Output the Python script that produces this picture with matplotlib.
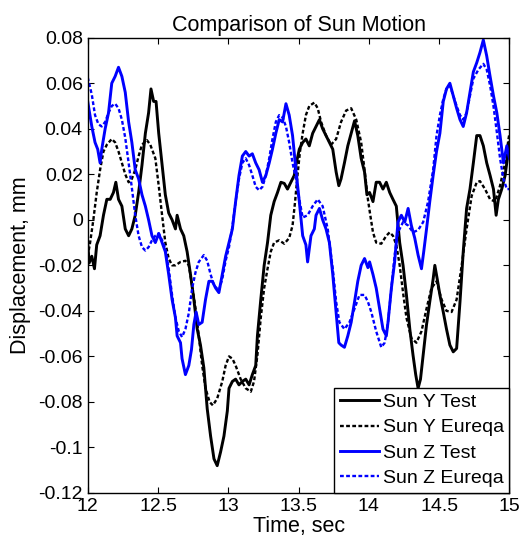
import numpy as np
import matplotlib.pyplot as plt

plt.rcParams['font.family'] = ['Liberation Sans', 'DejaVu Sans']

# (time [sec], displacement [mm])
sun_y_test = np.array([
    (12.000, -0.010), (12.010, -0.019), (12.029, -0.016), (12.048, -0.0215), (12.064, -0.011),
    (12.088, -0.007), (12.112, 0.002), (12.136, 0.009), (12.160, 0.009), (12.183, 0.012),
    (12.200, 0.0165), (12.219, 0.009), (12.243, 0.006), (12.267, -0.004), (12.291, -0.007),
    (12.314, -0.004), (12.338, 0.002), (12.362, 0.012), (12.386, 0.024), (12.410, 0.038),
    (12.433, 0.047), (12.450, 0.0575), (12.469, 0.052), (12.486, 0.052), (12.505, 0.038),
    (12.529, 0.024), (12.552, 0.011), (12.576, 0.003), (12.600, 0.0), (12.624, -0.004),
    (12.636, 0.002), (12.660, -0.004), (12.683, -0.007), (12.707, -0.014), (12.731, -0.024),
    (12.755, -0.035), (12.779, -0.048), (12.802, -0.055), (12.826, -0.065), (12.850, -0.083),
    (12.874, -0.095), (12.898, -0.105), (12.921, -0.108), (12.945, -0.102), (12.969, -0.095),
    (12.993, -0.084), (13.005, -0.074), (13.029, -0.071), (13.052, -0.070), (13.076, -0.0725),
    (13.100, -0.071), (13.124, -0.070), (13.148, -0.0725), (13.171, -0.068), (13.195, -0.064),
    (13.207, -0.051), (13.231, -0.035), (13.255, -0.020), (13.279, -0.010), (13.302, 0.002),
    (13.326, 0.008), (13.350, 0.012), (13.374, 0.0165), (13.398, 0.016), (13.421, 0.0135),
    (13.445, 0.0165), (13.469, 0.0195), (13.481, 0.024), (13.505, 0.031), (13.529, 0.034),
    (13.552, 0.0355), (13.576, 0.0325), (13.600, 0.038), (13.624, 0.041), (13.648, 0.044),
    (13.671, 0.040), (13.695, 0.037), (13.719, 0.034), (13.743, 0.031), (13.767, 0.021),
    (13.786, 0.015), (13.802, 0.018), (13.826, 0.025), (13.850, 0.0325), (13.874, 0.038),
    (13.898, 0.0435), (13.921, 0.037), (13.945, 0.027), (13.969, 0.021), (13.986, 0.011),
    (14.005, 0.012), (14.029, 0.008), (14.052, 0.0165), (14.076, 0.0165), (14.100, 0.0135),
    (14.124, 0.0165), (14.148, 0.012), (14.171, 0.009), (14.195, 0.006), (14.219, -0.010),
    (14.243, -0.020), (14.267, -0.033), (14.291, -0.048), (14.314, -0.0595), (14.333, -0.068),
    (14.350, -0.074), (14.367, -0.070), (14.386, -0.0595), (14.410, -0.046), (14.433, -0.036),
    (14.457, -0.026), (14.469, -0.020), (14.486, -0.026), (14.505, -0.033), (14.529, -0.0405),
    (14.552, -0.048), (14.576, -0.055), (14.600, -0.058), (14.624, -0.0565), (14.648, -0.036),
    (14.671, -0.014), (14.695, 0.005), (14.719, 0.0135), (14.743, 0.025), (14.767, 0.037),
    (14.790, 0.037), (14.814, 0.0325), (14.838, 0.025), (14.862, 0.0195), (14.886, 0.0135),
    (14.905, 0.002), (14.921, 0.009), (14.945, 0.0135), (14.969, 0.0195), (14.993, 0.031),
    (15.000, 0.034),
])

sun_y_eureqa = np.array([
    (12.000, -0.016), (12.017, -0.010), (12.040, 0.0), (12.064, 0.012), (12.088, 0.022),
    (12.112, 0.030), (12.136, 0.033), (12.171, 0.0355), (12.195, 0.034), (12.219, 0.030),
    (12.243, 0.025), (12.267, 0.020), (12.291, 0.0165), (12.314, 0.018), (12.338, 0.022),
    (12.362, 0.028), (12.386, 0.033), (12.421, 0.035), (12.445, 0.033), (12.481, 0.027),
    (12.505, 0.015), (12.529, 0.002), (12.552, -0.010), (12.576, -0.017), (12.600, -0.020),
    (12.624, -0.020), (12.660, -0.0185), (12.695, -0.018), (12.719, -0.020), (12.743, -0.029),
    (12.767, -0.039), (12.790, -0.051), (12.814, -0.064), (12.838, -0.074), (12.867, -0.080),
    (12.890, -0.0815), (12.921, -0.0785), (12.957, -0.071), (12.981, -0.064), (13.005, -0.060),
    (13.029, -0.061), (13.052, -0.064), (13.088, -0.070), (13.124, -0.074), (13.160, -0.0755),
    (13.183, -0.071), (13.207, -0.0595), (13.231, -0.043), (13.255, -0.030), (13.279, -0.0215),
    (13.302, -0.014), (13.326, -0.010), (13.362, -0.009), (13.398, -0.0105), (13.433, -0.008),
    (13.457, -0.0025), (13.475, 0.008), (13.492, 0.0195), (13.510, 0.030), (13.529, 0.038),
    (13.552, 0.046), (13.576, 0.050), (13.612, 0.0515), (13.636, 0.049), (13.660, 0.043),
    (13.695, 0.037), (13.731, 0.033), (13.767, 0.0355), (13.802, 0.043), (13.838, 0.048),
    (13.874, 0.049), (13.910, 0.044), (13.945, 0.034), (13.969, 0.022), (13.993, 0.009),
    (14.010, 0.002), (14.029, -0.0055), (14.052, -0.010), (14.088, -0.0105), (14.124, -0.007),
    (14.148, -0.0055), (14.171, -0.007), (14.195, -0.011), (14.219, -0.020), (14.243, -0.032),
    (14.267, -0.043), (14.302, -0.052), (14.338, -0.054), (14.374, -0.049), (14.410, -0.039),
    (14.445, -0.030), (14.481, -0.027), (14.517, -0.035), (14.552, -0.040), (14.588, -0.0405),
    (14.624, -0.035), (14.660, -0.020), (14.695, -0.004), (14.731, 0.0105), (14.767, 0.0165),
    (14.790, 0.017), (14.826, 0.0135), (14.862, 0.009), (14.898, 0.008), (14.933, 0.015),
    (14.969, 0.025), (14.993, 0.0355), (15.000, 0.038),
])

sun_z_test = np.array([
    (12.000, 0.052), (12.029, 0.041), (12.052, 0.034), (12.071, 0.031), (12.088, 0.025),
    (12.100, 0.031), (12.124, 0.040), (12.148, 0.047), (12.171, 0.060), (12.195, 0.063),
    (12.219, 0.067), (12.243, 0.063), (12.267, 0.056), (12.291, 0.043), (12.314, 0.034),
    (12.338, 0.022), (12.362, 0.018), (12.386, 0.011), (12.410, 0.006), (12.433, 0.0),
    (12.457, -0.007), (12.481, -0.010), (12.505, -0.006), (12.529, -0.010), (12.552, -0.014),
    (12.576, -0.024), (12.600, -0.035), (12.624, -0.043), (12.636, -0.051), (12.660, -0.054),
    (12.671, -0.061), (12.695, -0.068), (12.719, -0.064), (12.738, -0.057), (12.755, -0.046),
    (12.771, -0.0405), (12.790, -0.046), (12.814, -0.045), (12.838, -0.035), (12.862, -0.027),
    (12.886, -0.027), (12.910, -0.030), (12.933, -0.032), (12.957, -0.024), (12.981, -0.016),
    (13.005, -0.010), (13.029, -0.004), (13.052, 0.008), (13.076, 0.0195), (13.100, 0.028),
    (13.124, 0.030), (13.148, 0.028), (13.171, 0.029), (13.195, 0.025), (13.219, 0.022),
    (13.243, 0.0165), (13.267, 0.0195), (13.291, 0.025), (13.314, 0.031), (13.338, 0.038),
    (13.362, 0.044), (13.386, 0.043), (13.410, 0.051), (13.433, 0.046), (13.457, 0.037),
    (13.481, 0.022), (13.505, 0.008), (13.529, -0.007), (13.552, -0.011), (13.564, -0.0185),
    (13.588, -0.007), (13.612, -0.004), (13.624, 0.002), (13.648, 0.005), (13.671, 0.0),
    (13.695, -0.004), (13.719, -0.010), (13.743, -0.024), (13.767, -0.0405), (13.786, -0.054),
    (13.802, -0.055), (13.826, -0.056), (13.850, -0.051), (13.874, -0.045), (13.898, -0.036),
    (13.921, -0.027), (13.945, -0.020), (13.969, -0.017), (13.993, -0.021), (14.005, -0.0185),
    (14.029, -0.024), (14.052, -0.030), (14.076, -0.039), (14.100, -0.048), (14.124, -0.051),
    (14.136, -0.045), (14.160, -0.030), (14.183, -0.0185), (14.207, -0.001), (14.231, 0.002),
    (14.255, -0.001), (14.279, 0.005), (14.302, -0.0025), (14.326, -0.008), (14.350, -0.0155),
    (14.374, -0.0215), (14.390, -0.014), (14.410, -0.004), (14.433, 0.008), (14.457, 0.0195),
    (14.481, 0.030), (14.505, 0.038), (14.529, 0.052), (14.552, 0.0575), (14.576, 0.060),
    (14.600, 0.0545), (14.624, 0.049), (14.648, 0.044), (14.671, 0.041), (14.695, 0.047),
    (14.719, 0.056), (14.743, 0.065), (14.767, 0.069), (14.790, 0.0735), (14.814, 0.079),
    (14.838, 0.072), (14.862, 0.063), (14.886, 0.0545), (14.910, 0.047), (14.933, 0.037),
    (14.957, 0.025), (14.981, 0.0325), (15.000, 0.027),
])

sun_z_eureqa = np.array([
    (12.000, 0.0626), (12.029, 0.055), (12.052, 0.046), (12.076, 0.042), (12.100, 0.041),
    (12.124, 0.043), (12.148, 0.047), (12.171, 0.050), (12.195, 0.051), (12.219, 0.049),
    (12.243, 0.044), (12.267, 0.036), (12.291, 0.025), (12.314, 0.014), (12.338, 0.002),
    (12.362, -0.007), (12.386, -0.012), (12.410, -0.0135), (12.433, -0.012), (12.457, -0.009),
    (12.481, -0.007), (12.505, -0.006), (12.529, -0.009), (12.552, -0.0127), (12.576, -0.0215),
    (12.600, -0.033), (12.624, -0.043), (12.648, -0.049), (12.671, -0.0515), (12.695, -0.048),
    (12.719, -0.041), (12.743, -0.030), (12.767, -0.023), (12.790, -0.0185), (12.826, -0.0155),
    (12.850, -0.018), (12.874, -0.024), (12.900, -0.029), (12.933, -0.031), (12.957, -0.026),
    (12.981, -0.018), (13.005, -0.012), (13.029, -0.003), (13.052, 0.008), (13.076, 0.018),
    (13.100, 0.025), (13.124, 0.027), (13.148, 0.024), (13.171, 0.0195), (13.195, 0.0145),
    (13.219, 0.013), (13.243, 0.0145), (13.267, 0.0195), (13.291, 0.027), (13.314, 0.0355),
    (13.338, 0.043), (13.362, 0.046), (13.386, 0.045), (13.410, 0.041), (13.433, 0.034),
    (13.457, 0.025), (13.481, 0.018), (13.505, 0.009), (13.529, 0.001), (13.564, 0.002),
    (13.600, 0.006), (13.636, 0.009), (13.671, 0.006), (13.707, -0.004), (13.743, -0.0215),
    (13.767, -0.036), (13.790, -0.045), (13.826, -0.048), (13.862, -0.045), (13.898, -0.039),
    (13.933, -0.033), (13.969, -0.033), (13.993, -0.036), (14.017, -0.0405), (14.052, -0.049),
    (14.088, -0.056), (14.112, -0.054), (14.136, -0.045), (14.160, -0.030), (14.183, -0.0155),
    (14.207, -0.0055), (14.243, -0.001), (14.279, -0.0025), (14.314, -0.0055), (14.350, -0.0045),
    (14.386, -0.001), (14.421, 0.008), (14.457, 0.022), (14.481, 0.037), (14.505, 0.046),
    (14.529, 0.053), (14.552, 0.0575), (14.576, 0.059), (14.600, 0.0545), (14.624, 0.050),
    (14.648, 0.046), (14.671, 0.044), (14.695, 0.047), (14.719, 0.0545), (14.743, 0.062),
    (14.779, 0.066), (14.814, 0.0685), (14.838, 0.066), (14.862, 0.059), (14.886, 0.050),
    (14.910, 0.0385), (14.933, 0.027), (14.957, 0.018), (14.981, 0.0135), (15.000, 0.0135),
])

xticks = [12, 12.5, 13, 13.5, 14, 14.5, 15]
xtick_labels = ['12', '12.5', '13', '13.5', '14', '14.5', '15']
yticks = [-0.12, -0.1, -0.08, -0.06, -0.04, -0.02, 0, 0.02, 0.04, 0.06, 0.08]
ytick_labels = ['-0.12', '-0.1', '-0.08', '-0.06', '-0.04', '-0.02', '0',
                '0.02', '0.04', '0.06', '0.08']

fig = plt.figure(figsize=(5.24, 5.48), dpi=100)
ax = fig.add_axes([0.1674, 0.1004, 0.8049, 0.8308])

dash = (0, (1.6, 1.0))
ax.plot(sun_y_test[:, 0], sun_y_test[:, 1], color='k', lw=2.1, label='Sun Y Test')
ax.plot(sun_y_eureqa[:, 0], sun_y_eureqa[:, 1], color='k', lw=1.7, ls=dash, label='Sun Y Eureqa')
ax.plot(sun_z_test[:, 0], sun_z_test[:, 1], color='b', lw=2.1, label='Sun Z Test')
ax.plot(sun_z_eureqa[:, 0], sun_z_eureqa[:, 1], color='b', lw=1.7, ls=dash, label='Sun Z Eureqa')

ax.set_xlim(12, 15)
ax.set_ylim(-0.12, 0.08)
ax.set_xticks(xticks)
ax.set_xticklabels(xtick_labels)
ax.set_yticks(yticks)
ax.set_yticklabels(ytick_labels)
ax.tick_params(direction='in', top=True, right=True, labelsize=14, length=4, width=0.8)
for s in ax.spines.values():
    s.set_linewidth(1.0)

ax.set_title('Comparison of Sun Motion', fontsize=15.5, pad=5)
ax.set_xlabel('Time, sec', fontsize=15.5, labelpad=1)
ax.set_ylabel('Displacement, mm', fontsize=15.5, labelpad=5)

leg = ax.legend(loc='lower right', borderaxespad=0, fancybox=False, edgecolor='k',
                framealpha=1, fontsize=14, labelspacing=0.4, borderpad=0.3,
                handletextpad=0.2, handlelength=2)
leg.get_frame().set_linewidth(1.0)

fig.savefig('out.png', dpi=100)
